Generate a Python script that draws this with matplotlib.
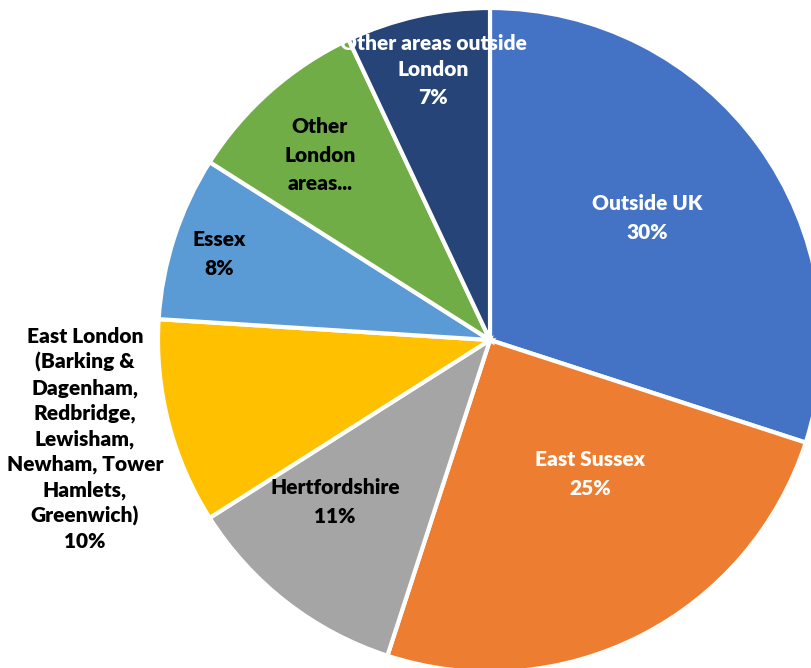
import matplotlib
matplotlib.use("Agg")
import matplotlib.pyplot as plt

categories = ["Outside UK", "East Sussex", "Hertfordshire",
              "East London (Barking & Dagenham, Redbridge, Lewisham, Newham, Tower Hamlets, Greenwich)",
              "Essex", "Other London areas", "Other areas outside London"]
values = [30, 25, 11, 10, 8, 9, 7]
label_texts = ["Outside UK\n30%", "East Sussex\n25%", "Hertfordshire\n11%",
               "East London\n(Barking &\nDagenham,\nRedbridge,\nLewisham,\nNewham, Tower\nHamlets,\nGreenwich)\n10%",
               "Essex\n8%", "Other\nLondon\nareas...", "Other areas outside\nLondon\n7%"]
colors = ["#4472C4", "#ED7D31", "#A5A5A5", "#FFC000", "#5B9BD5", "#70AD47", "#264478"]
text_colors = ["white", "white", "black", "black", "black", "black", "white"]

W, H = 811, 668
fig = plt.figure(figsize=(W/100, H/100), dpi=100)
ax = fig.add_axes([0, 0, 1, 1])
cx, cy, R = 490, 340, 332

wedges, _ = ax.pie(values, colors=colors, startangle=90, counterclock=False,
                   radius=1.0, wedgeprops=dict(edgecolor="white", linewidth=3))
ax.set_aspect("auto")
ax.set_xlim((0 - cx)/R, (W - cx)/R)
ax.set_ylim((cy - H)/R, cy/R)
ax.axis("off")

# label positions (pixel coords)
pos = [(647, 218), (590, 474), (335, 502), (85, 439), (219, 254), (320, 155), (433, 70)]
lsp = [1.58, 1.58, 1.58, 1.38, 1.58, 1.58, 1.5]
for (px, py), t, c, ls in zip(pos, label_texts, text_colors, lsp):
    ax.text((px - cx)/R, (cy - py)/R, t, ha="center", va="center", color=c,
            fontsize=15, fontweight="heavy", family=["Lato", "DejaVu Sans"],
            linespacing=ls)

fig.savefig("out.png", dpi=100)
